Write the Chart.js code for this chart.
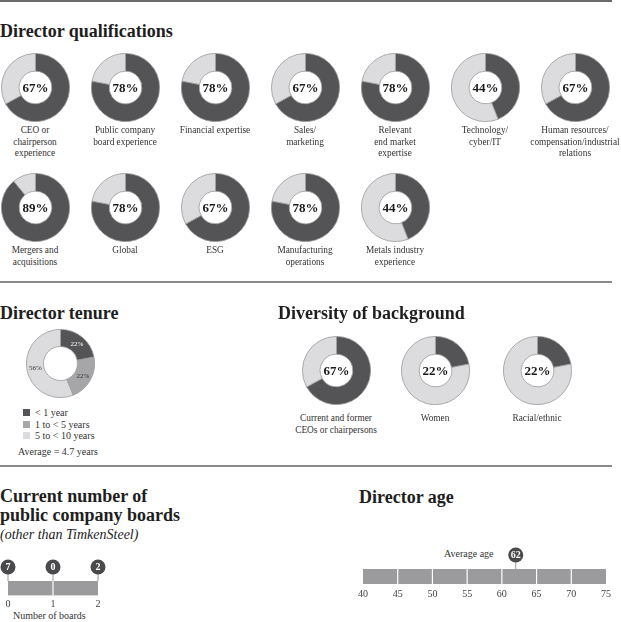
<!DOCTYPE html>
<html>
<head>
<meta charset="utf-8">
<script src="https://cdn.jsdelivr.net/npm/chart.js@4.4.0/dist/chart.umd.min.js"></script>
<style>
  body { margin: 0; background: #fff; font-family: "Liberation Serif", "Times New Roman", serif; color: #222; }
  #page { position: relative; width: 621px; height: 622px; overflow: hidden; }
  .abs { position: absolute; }
  .rule { position: absolute; left: 0; width: 612px; height: 2px; background: #6a6a6a; }
  .title { position: absolute; font-weight: bold; font-size: 18px; line-height: 1; white-space: nowrap; color: #1e1e1e; }
  .cell { position: absolute; width: 90px; text-align: center; }
  .cell canvas { display: block; margin: 0 auto; }
  .lbl { font-size: 9.3px; line-height: 11.5px; color: #333; margin-top: 3px; white-space: nowrap; }
  .leg { position: absolute; left: 23px; font-size: 10px; color: #333; white-space: nowrap; line-height: 12px; }
  .leg span.sw { display: inline-block; width: 7px; height: 7px; margin-right: 5px; vertical-align: 0px; }
  .small { position: absolute; font-size: 10px; color: #333; white-space: nowrap; line-height: 12px; }
</style>
</head>
<body>
<div id="page">
  <div class="rule" style="top:0"></div>
  <div class="title" style="left:0;top:22px">Director qualifications</div>
  <div id="qual"></div>

  <div class="rule" style="top:281px;background:#8a8a8a"></div>
  <div class="title" style="left:0;top:304px">Director tenure</div>
  <canvas id="tenure" class="abs" width="69" height="69" style="left:26px;top:329px"></canvas>
  <div id="tenureLegend"></div>
  <div class="small" style="left:18px;top:446px">Average = 4.7 years</div>

  <div class="title" style="left:278px;top:304px">Diversity of background</div>
  <div id="diversity"></div>

  <div class="rule" style="top:465px;background:#8a8a8a"></div>
  <div class="title" style="left:0;top:487px;line-height:19px">Current number of<br>public company boards</div>
  <div class="abs" style="left:0;top:527px;font-size:14px;font-style:italic;color:#222;white-space:nowrap">(other than TimkenSteel)</div>
  <canvas id="boards" class="abs" width="115" height="55" style="left:0;top:555px"></canvas>
  <div class="small" style="left:13px;top:610px">Number of boards</div>

  <div class="title" style="left:359px;top:488px">Director age</div>
  <div class="small" style="left:444px;top:548px">Average age</div>
  <canvas id="age" class="abs" width="276" height="65" style="left:345px;top:540px"></canvas>
</div>

<script>
// data
const qualLabels = [
  'CEO or\nchairperson\nexperience', 'Public company\nboard experience', 'Financial expertise',
  'Sales/\nmarketing', 'Relevant\nend market\nexpertise', 'Technology/\ncyber/IT',
  'Human resources/\ncompensation/industrial\nrelations',
  'Mergers and\nacquisitions', 'Global', 'ESG', 'Manufacturing\noperations', 'Metals industry\nexperience'
];
const qualValues = [67, 78, 78, 67, 78, 44, 67, 89, 78, 67, 78, 44];

const tenureLabels = ['< 1 year', '1 to < 5 years', '5 to < 10 years'];
const tenureValues = [22, 22, 56];

const diversityLabels = ['Current and former\nCEOs or chairpersons', 'Women', 'Racial/ethnic'];
const diversityValues = [67, 22, 22];

const boardTicks = [0, 1, 2];
const boardCounts = [7, 0, 2];

const ageTicks = [40, 45, 50, 55, 60, 65, 70, 75];
const averageAge = 62;

const DARK = '#545456';
const LIGHT = '#dcdcde';
const MID = '#a6a6a8';
const BAR = '#9b9b9d';
const PIN = '#4a4a4c';
const FONT = '"Liberation Serif", "Times New Roman", serif';

Chart.defaults.animation = false;
Chart.defaults.plugins.legend.display = false;
Chart.defaults.plugins.tooltip.enabled = false;
Chart.defaults.font.family = FONT;

const centerText = {
  id: 'centerText',
  afterDraw(chart) {
    const { ctx, chartArea } = chart;
    const v = chart.data.datasets[0].data[0];
    ctx.save();
    ctx.font = 'bold 13px ' + FONT;
    ctx.fillStyle = '#1a1a1a';
    ctx.textAlign = 'center';
    ctx.textBaseline = 'middle';
    ctx.fillText(v + '%', (chartArea.left + chartArea.right) / 2, (chartArea.top + chartArea.bottom) / 2 + 1);
    ctx.restore();
  }
};

function donut(canvas, value) {
  return new Chart(canvas, {
    type: 'doughnut',
    data: {
      datasets: [{
        data: [value, 100 - value],
        backgroundColor: [DARK, LIGHT],
        borderColor: '#9a9a9a',
        borderWidth: 0.8
      }]
    },
    options: { responsive: false, cutout: '48%', layout: { padding: 0 } },
    plugins: [centerText]
  });
}

function addCells(container, labels, values, places) {
  labels.forEach((text, i) => {
    const p = places(i);
    const cell = document.createElement('div');
    cell.className = 'cell';
    cell.style.left = (p.x - 45) + 'px';
    cell.style.top = p.y + 'px';
    const cv = document.createElement('canvas');
    cv.width = 69; cv.height = 69;
    const lab = document.createElement('div');
    lab.className = 'lbl';
    lab.style.marginTop = p.gap + 'px';
    lab.innerHTML = text.split('\n').join('<br>');
    cell.appendChild(cv);
    cell.appendChild(lab);
    container.appendChild(cell);
    donut(cv, values[i]);
  });
}

addCells(document.getElementById('qual'), qualLabels, qualValues, i => {
  const row = i < 7 ? 0 : 1;
  const col = row ? i - 7 : i;
  return { x: 35 + col * 90, y: row ? 173 : 53, gap: 3 };
});

addCells(document.getElementById('diversity'), diversityLabels, diversityValues, i => {
  return { x: [336, 435, 537][i], y: 336, gap: 8 };
});

// tenure donut with segment labels
new Chart(document.getElementById('tenure'), {
  type: 'doughnut',
  data: {
    labels: tenureLabels,
    datasets: [{
      data: tenureValues,
      backgroundColor: [DARK, MID, LIGHT],
      borderColor: '#9a9a9a',
      borderWidth: 0.8
    }]
  },
  options: { responsive: false, cutout: '50%' },
  plugins: [{
    id: 'segLabels',
    afterDraw(chart) {
      const { ctx } = chart;
      const meta = chart.getDatasetMeta(0);
      ctx.save();
      ctx.font = '7px ' + FONT;
      ctx.textAlign = 'center';
      ctx.textBaseline = 'middle';
      meta.data.forEach((arc, i) => {
        const pos = arc.tooltipPosition();
        ctx.fillStyle = i === 0 ? '#ffffff' : '#333333';
        ctx.fillText(tenureValues[i] + '%', pos.x, pos.y);
      });
      ctx.restore();
    }
  }]
});

const legend = document.getElementById('tenureLegend');
tenureLabels.forEach((t, i) => {
  const d = document.createElement('div');
  d.className = 'leg';
  d.style.top = (407 + i * 11.7) + 'px';
  d.innerHTML = '<span class="sw" style="background:' + [DARK, MID, LIGHT][i] + '"></span>' +
    t.replace(/</g, '&lt;');
  legend.appendChild(d);
});

// pin markers on a horizontal bar
function pinPlugin(values, labels, dividers) {
  return {
    id: 'pins',
    afterDatasetsDraw(chart) {
      const { ctx, chartArea } = chart;
      const x = chart.scales.x;
      ctx.save();
      ctx.strokeStyle = '#ffffff';
      ctx.lineWidth = 1.2;
      dividers.forEach(v => {
        const px = x.getPixelForValue(v);
        ctx.beginPath();
        ctx.moveTo(px, chartArea.top);
        ctx.lineTo(px, chartArea.bottom);
        ctx.stroke();
      });
      values.forEach((v, i) => {
        const px = x.getPixelForValue(v);
        const cy = chartArea.top - 14;
        ctx.strokeStyle = BAR;
        ctx.lineWidth = 1;
        ctx.beginPath();
        ctx.moveTo(px, cy);
        ctx.lineTo(px, chartArea.top);
        ctx.stroke();
        ctx.fillStyle = PIN;
        ctx.beginPath();
        ctx.arc(px, cy, 7.5, 0, Math.PI * 2);
        ctx.fill();
        ctx.fillStyle = '#ffffff';
        ctx.font = 'bold 10px ' + FONT;
        ctx.textAlign = 'center';
        ctx.textBaseline = 'middle';
        ctx.fillText(String(labels[i]), px, cy + 0.5);
      });
      ctx.restore();
    }
  };
}

function barOptions(min, max, step, pad, tickPad) {
  return {
    responsive: false,
    indexAxis: 'y',
    layout: { padding: pad },
    scales: {
      x: {
        type: 'linear', min: min, max: max,
        grid: { display: false, drawTicks: false }, border: { display: false },
        ticks: { stepSize: step, padding: tickPad, color: '#444', font: { size: 10, family: FONT, lineHeight: 1 } }
      },
      y: { display: false }
    }
  };
}

new Chart(document.getElementById('boards'), {
  type: 'bar',
  data: {
    labels: ['boards'],
    datasets: [{
      data: [[boardTicks[0], boardTicks[boardTicks.length - 1]]],
      backgroundColor: BAR, barPercentage: 1, categoryPercentage: 1
    }]
  },
  options: barOptions(0, 2, 1, { left: 8, right: 17, top: 26, bottom: 0 }, 4),
  plugins: [pinPlugin(boardTicks, boardCounts, boardTicks.slice(1, -1))]
});

new Chart(document.getElementById('age'), {
  type: 'bar',
  data: {
    labels: ['age'],
    datasets: [{
      data: [[ageTicks[0], ageTicks[ageTicks.length - 1]]],
      backgroundColor: BAR, barPercentage: 1, categoryPercentage: 1
    }]
  },
  options: barOptions(40, 75, 5, { left: 18, right: 15, top: 29, bottom: 6 }, 5),
  plugins: [pinPlugin([averageAge], [averageAge], ageTicks.slice(1, -1))]
});
</script>
</body>
</html>
